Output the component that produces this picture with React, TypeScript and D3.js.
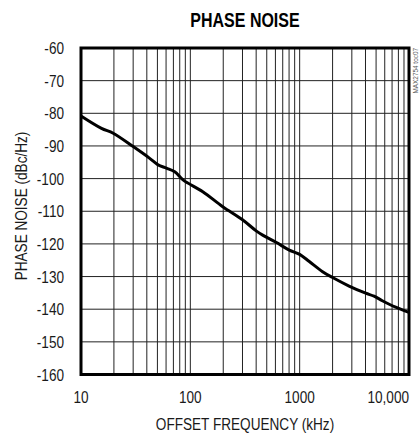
import React from "react";
import * as d3 from "d3";

const freqKHz = [10, 15.4, 19.7, 30, 42.5, 50.7, 60.4, 72, 85.7, 130, 198, 300, 400, 459, 608, 804, 1000, 1225, 1620, 2000, 2830, 4020, 4790, 5700, 7550, 10000];
const phaseNoise = [-80.8, -84.6, -86.1, -90.2, -93.8, -95.8, -96.8, -97.9, -100.4, -104, -108.6, -112.6, -116, -117.3, -119.5, -121.9, -123.2, -125.4, -128.5, -130.3, -132.9, -135.1, -136, -137.4, -139.4, -141];

const yTicks = [-60, -70, -80, -90, -100, -110, -120, -130, -140, -150, -160];
const xTickValues = [10, 100, 1000, 10000];
const xTickLabels = ["10", "100", "1000", "10,000"];

const W = 419;
const H = 436;
const M = { left: 81, right: 409, top: 48, bottom: 374.5 };
const FONT = "'Liberation Sans', Arial, Helvetica, sans-serif";
const SX = 0.8;

function T(props: {
  x: number;
  y: number;
  anchor?: string;
  size: number;
  rot?: number;
  bold?: boolean;
  fill?: string;
  sx?: number;
  children: React.ReactNode;
}) {
  const { x, y, anchor = "start", size, rot = 0, bold = false, fill = "#1a1a1a", sx = SX, children } = props;
  return (
    <text
      transform={`translate(${x},${y}) rotate(${rot}) scale(${sx},1)`}
      textAnchor={anchor}
      fontFamily={FONT}
      fontWeight={bold ? "bold" : "normal"}
      fontSize={size}
      fill={fill}
    >
      {children}
    </text>
  );
}

export default function App() {
  const x = d3.scaleLog().domain([10, 10000]).range([M.left, M.right]);
  const y = d3.scaleLinear().domain([-160, -60]).range([M.bottom, M.top]);

  const minorX: number[] = [];
  for (let d = 10; d < 10000; d *= 10) {
    for (let k = 1; k <= 9; k++) {
      const v = d * k;
      if (v > 10 && v < 10000) minorX.push(v);
    }
  }

  const line = d3
    .line<number>()
    .x((_, i) => x(freqKHz[i]))
    .y((d) => y(d))
    .curve(d3.curveCatmullRom.alpha(0.5));

  return (
    <svg width={W} height={H} style={{ position: "absolute", left: 0, top: 0, background: "#fff" }}>
      <T x={245} y={27} anchor="middle" size={19.5} bold fill="#000" sx={0.82}>
        PHASE NOISE
      </T>
      {yTicks.map((t) => (
        <line key={"h" + t} x1={M.left} x2={M.right} y1={y(t)} y2={y(t)} stroke="#222" strokeWidth={1} />
      ))}
      {minorX.map((v) => (
        <line key={"v" + v} x1={x(v)} x2={x(v)} y1={M.top} y2={M.bottom} stroke="#222" strokeWidth={1} />
      ))}
      <path d={line(phaseNoise) || ""} fill="none" stroke="#000" strokeWidth={3} strokeLinejoin="round" />
      <rect x={M.left} y={M.top} width={M.right - M.left} height={M.bottom - M.top} fill="none" stroke="#000" strokeWidth={3} />
      {yTicks.map((t) => (
        <T key={"yl" + t} x={64} y={y(t) + 6} anchor="end" size={17}>
          {t}
        </T>
      ))}
      {xTickValues.map((v, i) => (
        <T
          key={"xl" + v}
          x={i === xTickValues.length - 1 ? M.right : x(v)}
          y={403}
          anchor={i === xTickValues.length - 1 ? "end" : "middle"}
          size={17}
        >
          {xTickLabels[i]}
        </T>
      ))}
      <T x={245} y={430} anchor="middle" size={17}>
        OFFSET FREQUENCY (kHz)
      </T>
      <T x={26.5} y={206} anchor="middle" size={17} rot={-90}>
        PHASE NOISE (dBc/Hz)
      </T>
      <T x={418} y={48} anchor="end" size={8} rot={-90} fill="#555">
        MAX2754 toc07
      </T>
    </svg>
  );
}
